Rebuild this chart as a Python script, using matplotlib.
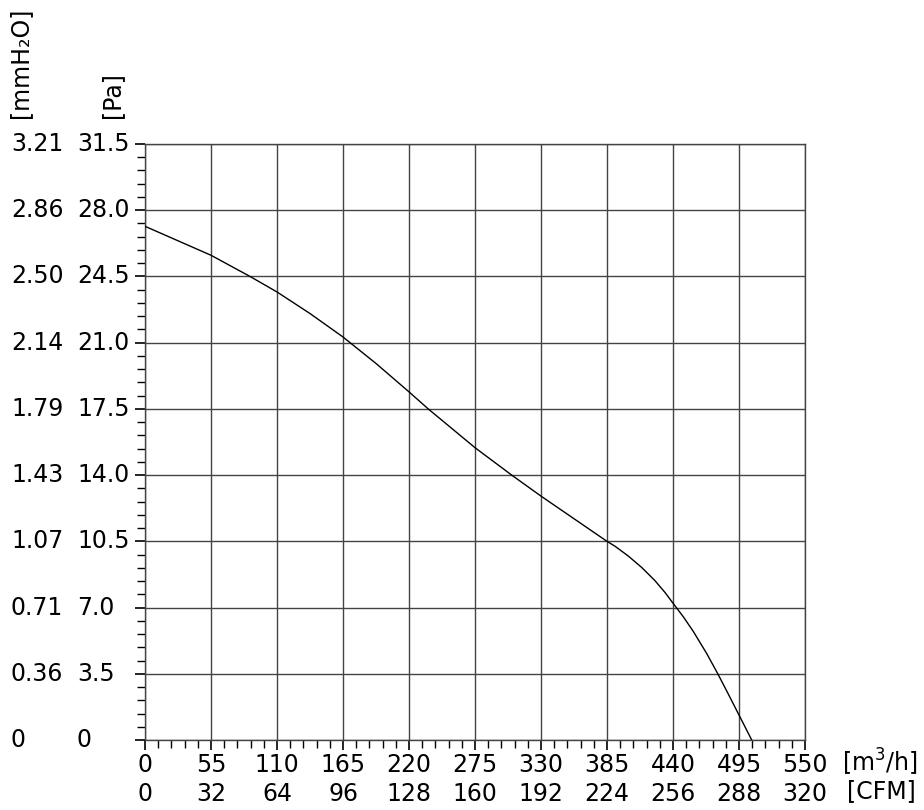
import matplotlib
matplotlib.use('Agg')
import matplotlib.pyplot as plt
import matplotlib.transforms as mtransforms
import numpy as np

# fan curve
flow_m3h = [0, 55, 87.5, 110, 137.5, 165, 192.5, 220, 236, 275, 305.6, 330,
            385, 391.7, 402.8, 413.9, 425, 433.3, 440.6, 448.5, 456.9, 468, 476.9,
            484.7, 495, 505.6]
pressure_pa = [27.15, 25.62, 24.5, 23.68, 22.54, 21.3, 19.9, 18.4, 17.5, 15.45, 14.0, 12.89,
               10.5, 10.24, 9.72, 9.12, 8.42, 7.8, 7.18, 6.52, 5.74, 4.58, 3.55,
               2.6, 1.32, 0.0]

x_ticks = [0, 55, 110, 165, 220, 275, 330, 385, 440, 495, 550]
cfm_labels = ['0', '32', '64', '96', '128', '160', '192', '224', '256', '288', '320']
pa_ticks = [0, 3.5, 7.0, 10.5, 14.0, 17.5, 21.0, 24.5, 28.0, 31.5]
pa_labels = ['0', '3.5', '7.0', '10.5', '14.0', '17.5', '21.0', '24.5', '28.0', '31.5']
mmh2o_labels = ['0', '0.36', '0.71', '1.07', '1.43', '1.79', '2.14', '2.50', '2.86', '3.21']

W, H = 924, 810
FS = 17
GRID = '#444444'

fig = plt.figure(figsize=(W / 100, H / 100), dpi=100)
ax = fig.add_axes([145 / W, 70 / H, 660 / W, 596 / H])

ax.plot(flow_m3h, pressure_pa, color='black', lw=1.0, zorder=3)

ax.set_xlim(0, 550)
ax.set_ylim(0, 31.5)
ax.set_xticks(x_ticks)
ax.set_xticks(np.arange(0, 551, 11), minor=True)
ax.set_yticks(pa_ticks)
ax.set_yticks(np.arange(0, 31.51, 0.7), minor=True)
ax.grid(True, which='major', color=GRID, lw=1.0)

ax.set_xticklabels([f'{a}\n{b}' for a, b in zip(x_ticks, cfm_labels)],
                   fontsize=FS, linespacing=1.3)
ax.set_yticklabels([])
ax.tick_params(which='major', direction='out', length=7, width=1.2, color='black', pad=2)
ax.tick_params(which='minor', direction='out', length=6, width=1.0, color='black')
for s in ax.spines.values():
    s.set_color(GRID)
    s.set_linewidth(1.0)

# left-aligned pressure columns
trans = mtransforms.blended_transform_factory(fig.transFigure, ax.transData)
for v, pa, mm in zip(pa_ticks, pa_labels, mmh2o_labels):
    ax.text(77 / W, v, pa, transform=trans, ha='left', va='center',
            fontsize=FS, clip_on=False)
    ax.text(11 / W, v, mm, transform=trans, ha='left', va='center',
            fontsize=FS, clip_on=False)

fig.text(20 / W, 1 - 118 / H, '[mmH\u2082O]', rotation=90, ha='center', va='bottom', fontsize=FS)
fig.text(112 / W, 1 - 118 / H, '[Pa]', rotation=90, ha='center', va='bottom', fontsize=FS)
fig.text(842 / W, 1 - 762 / H, '[m$^3$/h]', ha='left', va='center', fontsize=FS)
fig.text(847 / W, 1 - 791 / H, '[CFM]', ha='left', va='center', fontsize=FS)

fig.savefig('out.png', dpi=100)
